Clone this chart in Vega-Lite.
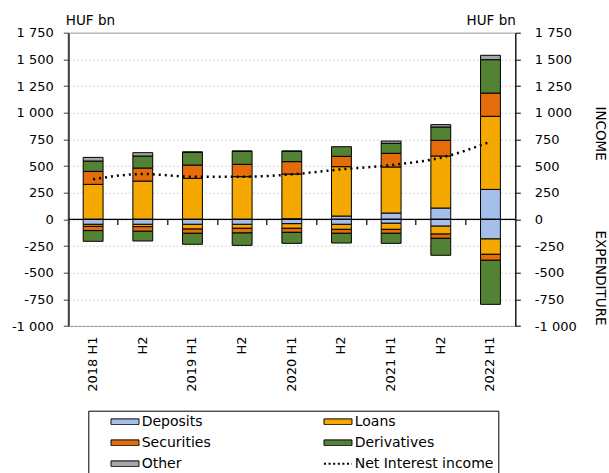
{
  "$schema": "https://vega.github.io/schema/vega-lite/v6.json",
  "width": 447,
  "height": 293.3,
  "autosize": {"type": "none"},
  "padding": {"left": 68.3, "top": 32.7, "right": 93.7, "bottom": 147},
  "config": {
    "font": "DejaVu Sans",
    "view": {"stroke": "#8c8c8c", "strokeWidth": 1}
  },
  "datasets": {
    "bars": [
      {"period": "2018 H1", "cat": "Loans", "ord": 2, "value": 328},
      {"period": "2018 H1", "cat": "Securities", "ord": 3, "value": 122},
      {"period": "2018 H1", "cat": "Derivatives", "ord": 4, "value": 97},
      {"period": "2018 H1", "cat": "Other", "ord": 5, "value": 34},
      {"period": "2018 H1", "cat": "Deposits", "ord": 1, "value": -47},
      {"period": "2018 H1", "cat": "Loans", "ord": 2, "value": -19},
      {"period": "2018 H1", "cat": "Securities", "ord": 3, "value": -40},
      {"period": "2018 H1", "cat": "Derivatives", "ord": 4, "value": -100},
      {"period": "2018 H2", "cat": "Loans", "ord": 2, "value": 359},
      {"period": "2018 H2", "cat": "Securities", "ord": 3, "value": 122},
      {"period": "2018 H2", "cat": "Derivatives", "ord": 4, "value": 113},
      {"period": "2018 H2", "cat": "Other", "ord": 5, "value": 31},
      {"period": "2018 H2", "cat": "Deposits", "ord": 1, "value": -47},
      {"period": "2018 H2", "cat": "Loans", "ord": 2, "value": -22},
      {"period": "2018 H2", "cat": "Securities", "ord": 3, "value": -43},
      {"period": "2018 H2", "cat": "Derivatives", "ord": 4, "value": -91},
      {"period": "2019 H1", "cat": "Loans", "ord": 2, "value": 384},
      {"period": "2019 H1", "cat": "Securities", "ord": 3, "value": 125},
      {"period": "2019 H1", "cat": "Derivatives", "ord": 4, "value": 119},
      {"period": "2019 H1", "cat": "Other", "ord": 5, "value": 5},
      {"period": "2019 H1", "cat": "Deposits", "ord": 1, "value": -47},
      {"period": "2019 H1", "cat": "Loans", "ord": 2, "value": -44},
      {"period": "2019 H1", "cat": "Securities", "ord": 3, "value": -40},
      {"period": "2019 H1", "cat": "Derivatives", "ord": 4, "value": -103},
      {"period": "2019 H2", "cat": "Loans", "ord": 2, "value": 400},
      {"period": "2019 H2", "cat": "Securities", "ord": 3, "value": 116},
      {"period": "2019 H2", "cat": "Derivatives", "ord": 4, "value": 122},
      {"period": "2019 H2", "cat": "Other", "ord": 5, "value": 3},
      {"period": "2019 H2", "cat": "Deposits", "ord": 1, "value": -47},
      {"period": "2019 H2", "cat": "Loans", "ord": 2, "value": -37},
      {"period": "2019 H2", "cat": "Securities", "ord": 3, "value": -44},
      {"period": "2019 H2", "cat": "Derivatives", "ord": 4, "value": -116},
      {"period": "2020 H1", "cat": "Deposits", "ord": 1, "value": 5},
      {"period": "2020 H1", "cat": "Loans", "ord": 2, "value": 420},
      {"period": "2020 H1", "cat": "Securities", "ord": 3, "value": 116},
      {"period": "2020 H1", "cat": "Derivatives", "ord": 4, "value": 97},
      {"period": "2020 H1", "cat": "Other", "ord": 5, "value": 3},
      {"period": "2020 H1", "cat": "Deposits", "ord": 1, "value": -41},
      {"period": "2020 H1", "cat": "Loans", "ord": 2, "value": -43},
      {"period": "2020 H1", "cat": "Securities", "ord": 3, "value": -38},
      {"period": "2020 H1", "cat": "Derivatives", "ord": 4, "value": -103},
      {"period": "2020 H2", "cat": "Deposits", "ord": 1, "value": 31},
      {"period": "2020 H2", "cat": "Loans", "ord": 2, "value": 463},
      {"period": "2020 H2", "cat": "Securities", "ord": 3, "value": 97},
      {"period": "2020 H2", "cat": "Derivatives", "ord": 4, "value": 90},
      {"period": "2020 H2", "cat": "Deposits", "ord": 1, "value": -47},
      {"period": "2020 H2", "cat": "Loans", "ord": 2, "value": -47},
      {"period": "2020 H2", "cat": "Securities", "ord": 3, "value": -37},
      {"period": "2020 H2", "cat": "Derivatives", "ord": 4, "value": -91},
      {"period": "2021 H1", "cat": "Deposits", "ord": 1, "value": 59},
      {"period": "2021 H1", "cat": "Loans", "ord": 2, "value": 432},
      {"period": "2021 H1", "cat": "Securities", "ord": 3, "value": 128},
      {"period": "2021 H1", "cat": "Derivatives", "ord": 4, "value": 94},
      {"period": "2021 H1", "cat": "Other", "ord": 5, "value": 21},
      {"period": "2021 H1", "cat": "Deposits", "ord": 1, "value": -37},
      {"period": "2021 H1", "cat": "Loans", "ord": 2, "value": -57},
      {"period": "2021 H1", "cat": "Securities", "ord": 3, "value": -37},
      {"period": "2021 H1", "cat": "Derivatives", "ord": 4, "value": -94},
      {"period": "2021 H2", "cat": "Deposits", "ord": 1, "value": 106},
      {"period": "2021 H2", "cat": "Loans", "ord": 2, "value": 488},
      {"period": "2021 H2", "cat": "Securities", "ord": 3, "value": 147},
      {"period": "2021 H2", "cat": "Derivatives", "ord": 4, "value": 125},
      {"period": "2021 H2", "cat": "Other", "ord": 5, "value": 22},
      {"period": "2021 H2", "cat": "Deposits", "ord": 1, "value": -64},
      {"period": "2021 H2", "cat": "Loans", "ord": 2, "value": -74},
      {"period": "2021 H2", "cat": "Securities", "ord": 3, "value": -40},
      {"period": "2021 H2", "cat": "Derivatives", "ord": 4, "value": -159},
      {"period": "2022 H1", "cat": "Deposits", "ord": 1, "value": 281},
      {"period": "2022 H1", "cat": "Loans", "ord": 2, "value": 685},
      {"period": "2022 H1", "cat": "Securities", "ord": 3, "value": 218},
      {"period": "2022 H1", "cat": "Derivatives", "ord": 4, "value": 313},
      {"period": "2022 H1", "cat": "Other", "ord": 5, "value": 41},
      {"period": "2022 H1", "cat": "Deposits", "ord": 1, "value": -184},
      {"period": "2022 H1", "cat": "Loans", "ord": 2, "value": -144},
      {"period": "2022 H1", "cat": "Securities", "ord": 3, "value": -56},
      {"period": "2022 H1", "cat": "Derivatives", "ord": 4, "value": -413}
    ],
    "nii": [
      {"period": "2018 H1", "nii": 375},
      {"period": "2018 H2", "nii": 425},
      {"period": "2019 H1", "nii": 400},
      {"period": "2019 H2", "nii": 400},
      {"period": "2020 H1", "nii": 422},
      {"period": "2020 H2", "nii": 469},
      {"period": "2021 H1", "nii": 509},
      {"period": "2021 H2", "nii": 578},
      {"period": "2022 H1", "nii": 728}
    ],
    "zero": [{"z": 0}]
  },
  "layer": [
    {
      "data": {"name": "bars"},
      "mark": {"type": "bar", "width": {"band": 0.4}, "stroke": "#000000", "strokeWidth": 1},
      "encoding": {
        "x": {
          "field": "period", "type": "nominal", "sort": null,
          "scale": {"paddingInner": 0, "paddingOuter": 0},
          "axis": {
            "title": null, "orient": "bottom", "labelAngle": -90, "ticks": false, "domain": false, "grid": false,
            "labelPadding": 10, "labelFontSize": 13, "labelColor": "#000000",
            "labelExpr": "indexof(datum.label, 'H2') >= 0 ? 'H2' : datum.label"
          }
        },
        "y": {
          "field": "value", "type": "quantitative", "stack": "zero",
          "scale": {"domain": [-1000, 1750], "nice": false, "zero": false},
          "axis": {
            "orient": "left",
            "values": [-1000, -750, -500, -250, 0, 250, 500, 750, 1000, 1250, 1500, 1750],
            "labelExpr": "(datum.value < 0 ? '-' : '') + replace(format(abs(datum.value), ','), ',', ' ')",
            "labelFontSize": 13, "labelColor": "#000000", "labelPadding": 10,
            "tickSize": 5, "tickColor": "#404040", "domainColor": "#404040", "domainWidth": 2,
            "grid": true, "gridColor": "#d4d4d4", "gridDash": [2, 2],
            "title": "HUF bn", "titleAngle": 0, "titleAlign": "left", "titleBaseline": "alphabetic",
            "titleX": -3, "titleY": -8, "titleFontWeight": "normal", "titleFontSize": 13.5, "titleColor": "#000000"
          }
        },
        "color": {
          "field": "cat", "type": "nominal",
          "scale": {
            "domain": ["Deposits", "Securities", "Other", "Loans", "Derivatives", "Net Interest income"],
            "range": ["#A6BFEA", "#E46C0A", "#A6A6A6", "#F5A800", "#548235", "#000000"]
          },
          "legend": {
            "orient": "none", "legendX": 20, "legendY": 378, "columns": 2, "title": null,
            "strokeColor": "#000000", "padding": 4, "rowPadding": 7, "columnPadding": 94,
            "symbolSize": 196, "symbolType": "M1.67,-0.4H5.67V0.4H1.67Z",
            "symbolStrokeColor": "#000000", "symbolStrokeWidth": 1,
            "labelOffset": 35.4, "labelFontSize": 14, "labelColor": "#000000",
            "encode": {
              "symbols": {
                "update": {
                  "shape": {"signal": "datum.value === 'Net Interest income' ? 'M1.67,0H5.67' : 'M1.67,-0.4H5.67V0.4H1.67Z'"},
                  "stroke": {"value": "#000000"},
                  "strokeDash": {"signal": "datum.value === 'Net Interest income' ? [2, 2.6] : [1, 0]"},
                  "strokeWidth": {"signal": "datum.value === 'Net Interest income' ? 2 : 1"}
                }
              }
            }
          }
        },
        "order": {"field": "ord", "type": "quantitative"}
      }
    },
    {
      "data": {"name": "zero"},
      "mark": {"type": "rule", "color": "#000000", "strokeWidth": 1.2},
      "encoding": {
        "y": {"field": "z", "type": "quantitative", "axis": null}
      }
    },
    {
      "data": {"name": "nii"},
      "mark": {"type": "line", "color": "#000000", "strokeDash": [2, 4], "strokeWidth": 2.5, "interpolate": "monotone"},
      "encoding": {
        "x": {
          "field": "period", "type": "nominal", "sort": null,
          "axis": {
            "title": null, "orient": "top", "offset": -186.7, "labels": false, "grid": false, "domain": false,
            "tickColor": "#000000", "tickSize": -5, "tickWidth": 1.2, "bandPosition": 0
          }
        },
        "y": {
          "field": "nii", "type": "quantitative",
          "axis": {
            "orient": "right",
            "values": [-1000, -750, -500, -250, 0, 250, 500, 750, 1000, 1250, 1500, 1750],
            "labelExpr": "(datum.value < 0 ? '-' : '') + replace(format(abs(datum.value), ','), ',', ' ')",
            "labelFontSize": 13, "labelColor": "#000000", "labelPadding": 14,
            "tickSize": 5, "tickColor": "#000000", "domainColor": "#000000", "domainWidth": 1.2,
            "grid": false,
            "title": "HUF bn", "titleAngle": 0, "titleAlign": "right", "titleBaseline": "alphabetic",
            "titleX": 0, "titleY": -8, "titleFontWeight": "normal", "titleFontSize": 13.5, "titleColor": "#000000"
          }
        }
      }
    },
    {
      "data": {"name": "nii"},
      "mark": {"type": "point", "opacity": 0},
      "encoding": {
        "x": {"field": "period", "type": "nominal", "sort": null, "axis": null},
        "y": {
          "field": "nii", "type": "quantitative",
          "axis": {
            "orient": "right", "offset": 80, "values": [809, -546],
            "labelExpr": "datum.value > 0 ? 'INCOME' : 'EXPENDITURE'",
            "labelAngle": 90, "labelAlign": "center", "labelBaseline": "middle",
            "labelFontSize": 13.5, "labelColor": "#000000", "labelPadding": 4,
            "ticks": false, "tickSize": 0, "domain": false, "grid": false, "title": null
          }
        }
      }
    }
  ],
  "resolve": {
    "scale": {"x": "shared", "y": "shared"},
    "axis": {"x": "independent", "y": "independent"}
  }
}
